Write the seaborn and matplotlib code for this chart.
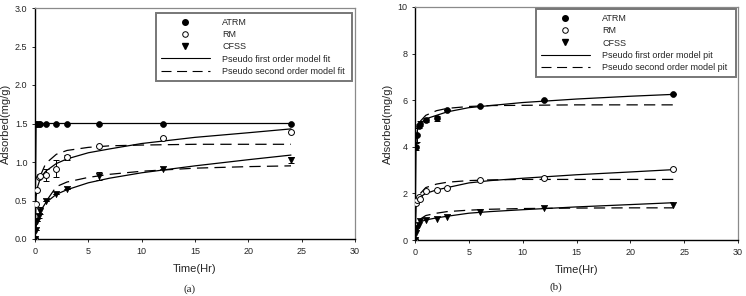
import numpy as np
import pandas as pd
import matplotlib
matplotlib.use("Agg")
import matplotlib.pyplot as plt
import seaborn as sns
from matplotlib.lines import Line2D

# ── Data ──────────────────────────────────────────────────────────────────────
t_obs = [0, 0.083, 0.167, 0.333, 0.5, 1, 2, 3, 6, 12, 24]

# panel (a)
a_atrm = [0, 1.5, 1.5, 1.5, 1.5, 1.5, 1.5, 1.5, 1.5, 1.5, 1.5]
a_rm = [0, 0.45, 0.63, 0.80, 0.82, 0.83, 0.91, 1.06, 1.21, 1.31, 1.39]
a_rm_err = [0, 0, 0, 0, 0.02, 0.08, 0.11, 0.03, 0, 0, 0]
a_cfss = [0, 0.12, 0.23, 0.30, 0.37, 0.49, 0.58, 0.65, 0.82, 0.91, 1.03]
a_cfss_err = [0, 0, 0, 0.03, 0.04, 0, 0, 0, 0.05, 0, 0.04]

# panel (b)
b_atrm = [0, 4.0, 4.5, 4.9, 5.0, 5.15, 5.22, 5.6, 5.73, 6.0, 6.28]
b_atrm_err = [0, 0.15, 0.3, 0.1, 0.1, 0.1, 0.1, 0, 0, 0, 0]
b_rm = [0, 1.6, 1.7, 1.85, 1.75, 2.1, 2.15, 2.22, 2.58, 2.65, 3.05]
b_cfss = [0, 0.3, 0.5, 0.65, 0.8, 0.85, 0.9, 1.0, 1.22, 1.38, 1.5]

# model fits, sampled along time
t_fit = [0, 0.1, 0.25, 0.5, 1, 2, 3, 5, 7, 10, 15, 20, 24]
t_fit2 = [0.5, 1, 2, 3, 5, 7, 10, 15, 20, 24]
t_fit2a = [1.2, 2, 3, 5, 7, 10, 15, 20, 24]

a_atrm_pfo = [0, 1.5, 1.5, 1.5, 1.5, 1.5, 1.5, 1.5, 1.5, 1.5, 1.5, 1.5, 1.5]
a_rm_pfo = [0, 0.55, 0.68, 0.79, 0.88, 0.98, 1.04, 1.12, 1.17, 1.24, 1.32, 1.38, 1.43]
a_rm_pso = [0.82, 0.98, 1.10, 1.15, 1.19, 1.21, 1.22, 1.23, 1.23, 1.23]
a_cfss_pfo = [0, 0.15, 0.27, 0.36, 0.47, 0.58, 0.64, 0.73, 0.79, 0.86, 0.95, 1.03, 1.09]
a_cfss_pso = [0.52, 0.68, 0.74, 0.80, 0.84, 0.88, 0.92, 0.94, 0.95]

b_atrm_pfo = [0, 4.3, 4.8, 5.0, 5.2, 5.35, 5.5, 5.68, 5.77, 5.9, 6.05, 6.17, 6.25]
b_atrm_pso = [5.1, 5.35, 5.55, 5.65, 5.73, 5.77, 5.78, 5.8, 5.8, 5.8]
b_rm_pfo = [0, 1.4, 1.7, 1.85, 2.0, 2.15, 2.25, 2.45, 2.55, 2.65, 2.8, 2.92, 3.02]
b_rm_pso = [2.0, 2.25, 2.4, 2.48, 2.55, 2.58, 2.6, 2.6, 2.6, 2.6]
b_cfss_pfo = [0, 0.45, 0.65, 0.78, 0.86, 0.95, 1.02, 1.15, 1.22, 1.3, 1.42, 1.52, 1.6]
b_cfss_pso = [0.9, 1.05, 1.15, 1.22, 1.28, 1.32, 1.35, 1.37, 1.38, 1.38]

# ── Style ─────────────────────────────────────────────────────────────────────
sns.set_style("ticks")
plt.rcParams["font.family"] = ["Liberation Sans", "DejaVu Sans"]
FS = 6.5
DASH = (0, (9, 5))

fig = plt.figure(figsize=(7.46, 2.96), dpi=100)
ax_a = fig.add_axes([35 / 746, 57 / 296, 320 / 746, 231 / 296])
ax_b = fig.add_axes([415 / 746, 56 / 296, 323 / 746, 233 / 296])


def draw_panel(ax, atrm, rm, cfss, errs, fits, ylim, yticks, yfmt, fit_word, leg_box):
    # fit lines
    for xs, ys, ls in fits:
        sns.lineplot(x=xs, y=ys, ax=ax, color="black", lw=0.9, linestyle=ls,
                     sort=False, estimator=None, legend=False)
    # error bars
    for ys, es in errs:
        ax.errorbar(t_obs, ys, yerr=es, fmt="none", ecolor="black",
                    elinewidth=0.7, capsize=2.5, capthick=0.7, zorder=3)
    # observed points
    sns.scatterplot(x=t_obs, y=atrm, ax=ax, marker="o", s=18, color="black",
                    edgecolor="black", linewidth=0.5, zorder=4, legend=False)
    sns.scatterplot(x=t_obs, y=rm, ax=ax, marker="o", s=18, color="white",
                    edgecolor="black", linewidth=0.7, zorder=4, legend=False)
    sns.scatterplot(x=t_obs, y=cfss, ax=ax, marker="v", s=20, color="black",
                    edgecolor="black", linewidth=0.5, zorder=4, legend=False)

    ax.set_xlim(0, 30)
    ax.set_ylim(*ylim)
    ax.set_xticks([0, 5, 10, 15, 20, 25, 30])
    ax.set_yticks(yticks)
    ax.set_yticklabels([yfmt.format(v) for v in yticks])
    ax.tick_params(labelsize=FS, length=2.5, width=0.7, direction="out", pad=3)
    for s in ("left", "bottom"):
        ax.spines[s].set_linewidth(1.0)
        ax.spines[s].set_color("black")
    for s in ("top", "right"):
        ax.spines[s].set_linewidth(0.9)
        ax.spines[s].set_color("#8a8a8a")
    ax.set_xlabel("Time(Hr)", fontsize=8, labelpad=6)
    ax.set_ylabel("Adsorbed(mg/g)", fontsize=8, labelpad=3)

    handles = [
        Line2D([], [], marker="o", ls="none", color="black", markersize=4),
        Line2D([], [], marker="o", ls="none", markerfacecolor="white",
               markeredgecolor="black", markersize=4, markeredgewidth=0.7),
        Line2D([], [], marker="v", ls="none", color="black", markersize=4),
        Line2D([], [], color="black", lw=0.8),
        Line2D([], [], color="black", lw=0.8, linestyle=DASH),
    ]
    labels = ["ATRM", "RM", "CFSS",
              f"Pseudo first order model {fit_word}",
              f"Pseudo second order model {fit_word}"]
    leg = ax.legend(handles, labels, loc="upper left", bbox_to_anchor=leg_box,
                    mode="expand", fontsize=FS, frameon=True, fancybox=False,
                    handlelength=5.4, handletextpad=1.4, labelspacing=0.35,
                    borderpad=0.55, borderaxespad=0)
    leg.get_frame().set_edgecolor("#555555")
    leg.get_frame().set_linewidth(1.4)


draw_panel(ax_a, a_atrm, a_rm, a_cfss,
           [(a_rm, a_rm_err), (a_cfss, a_cfss_err)],
           [(t_fit, a_atrm_pfo, "-"), (t_fit, a_rm_pfo, "-"), (t_fit, a_cfss_pfo, "-"),
            (t_fit2, a_rm_pso, DASH), (t_fit2a, a_cfss_pso, DASH)],
           (0, 3.0), [0, 0.5, 1.0, 1.5, 2.0, 2.5, 3.0], "{:.1f}", "fit",
           (0.378, 0.688, 0.612, 0.29))

draw_panel(ax_b, b_atrm, b_rm, b_cfss,
           [(b_atrm, b_atrm_err)],
           [(t_fit, b_atrm_pfo, "-"), (t_fit, b_rm_pfo, "-"), (t_fit, b_cfss_pfo, "-"),
            (t_fit2, b_atrm_pso, DASH), (t_fit2, b_rm_pso, DASH), (t_fit2, b_cfss_pso, DASH)],
           (0, 10), [0, 2, 4, 6, 8, 10], "{:.0f}", "pit",
           (0.375, 0.70, 0.62, 0.29))

fig.text(190 / 746, 1 - 289 / 296, "(a)", ha="center", va="center",
         fontsize=8, family=["Liberation Serif", "DejaVu Serif"])
fig.text(556 / 746, 1 - 287 / 296, "(b)", ha="center", va="center",
         fontsize=8, family=["Liberation Serif", "DejaVu Serif"])

fig.savefig("out.png", dpi=100)
plt.close(fig)
